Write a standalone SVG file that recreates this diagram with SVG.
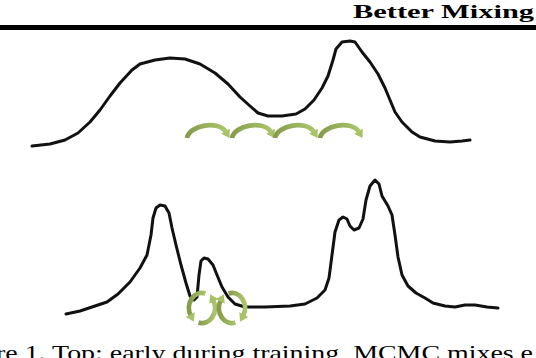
<svg xmlns="http://www.w3.org/2000/svg" width="536" height="358" viewBox="0 0 536 358">
<style>
.txt{font-family:"Liberation Serif","Times New Roman",serif;fill:#000}
.curve{fill:none;stroke:#111;stroke-width:3;stroke-linejoin:round;stroke-linecap:round}
.hop{fill:none;stroke:url(#gg);stroke-width:4.8;stroke-linecap:butt;marker-end:url(#ah)}
.cyc{fill:none;stroke:url(#gg);stroke-width:4.8;stroke-linecap:butt;marker-end:url(#ah)}
</style>
<defs>
<linearGradient id="gg" x1="0" y1="0" x2="1" y2="0">
<stop offset="0" stop-color="#879b4b"/>
<stop offset="1" stop-color="#aac66c"/>
</linearGradient>
<marker id="ah" markerUnits="userSpaceOnUse" viewBox="0 0 8 10" refX="1" refY="5" markerWidth="8" markerHeight="10" orient="auto">
<path d="M0,0 L8,5 L0,10 z" fill="#a7c268"/>
</marker>
</defs>
<g id="header">
<text class="txt" x="353" y="18" font-size="18" font-weight="bold" textLength="181" lengthAdjust="spacingAndGlyphs">Better Mixing</text>
<rect x="0" y="25" width="536" height="5" fill="#000"/>
</g>
<g id="top-distribution">
<polyline class="curve" points="32,146 50,144 65,140 78,133 90,122 100,110 110,96 120,83 132,70 140,64 155,60 170,58 185,59 200,64 215,73 228,84 240,97 250,106 258,113 268,116 282,116 296,114 305,109 314,100 322,88 328,76 333,60 336,49 342,42 350,41 355,42 362,52 370,62 378,74 385,88 390,100 395,112 402,122 412,132 420,137 435,141 450,142 462,141 470,140"/>
</g>
<g id="bottom-distribution">
<polyline class="curve" points="66,314 80,311 95,306 107,302 118,294 130,282 140,268 147,255 151,235 153,218 156,208 160,205 165,206 169,213 172,228 176,245 181,265 186,283 190,296 194,300 197,297 199,275 201,261 204,258 208,259 213,265 217,275 222,287 228,297 235,304 245,307 265,307 290,306 305,304 317,298 325,290 329,278 332,255 335,232 339,220 343,217 347,219 350,226 354,230 359,228 363,219 366,200 370,186 375,180 379,184 382,196 388,206 392,215 395,235 398,257 402,275 408,286 416,293 425,298 433,303 445,306 455,307 465,305 475,305 487,307 498,308"/>
</g>
<g id="connectors">
<g id="top-hops">
<path class="hop" transform="translate(187,123)" d="M0,15 C2,2 32,-3 39,9"/>
<path class="hop" transform="translate(232,123)" d="M0,15 C2,2 32,-3 39,9"/>
<path class="hop" transform="translate(275,123)" d="M0,15 C2,2 32,-3 39,9"/>
<path class="hop" transform="translate(320,123)" d="M0,15 C2,2 32,-3 39,9"/>
</g>
<g id="bottom-cycles">
<g transform="translate(202,308)">
<path class="cyc" d="M3.4,-14.5 A13,15 0 0 0 -11.3,7.5"/>
<path class="cyc" d="M-3.4,14.5 A13,15 0 0 0 11.3,-7.5"/>
</g>
<g transform="translate(232,308)">
<path class="cyc" d="M-3.4,-14.5 A13,15 0 0 1 11.3,7.5"/>
<path class="cyc" d="M3.4,14.5 A13,15 0 0 1 -11.3,-7.5"/>
</g>
</g>
</g>
<g id="caption">
<text class="txt" x="-4" y="360" font-size="21" textLength="537" lengthAdjust="spacingAndGlyphs">re 1. Top: early during training, MCMC mixes e</text>
</g>
</svg>
